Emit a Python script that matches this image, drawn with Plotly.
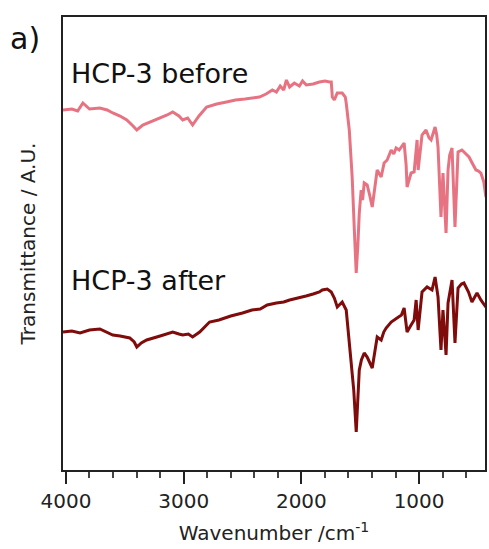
import plotly.graph_objects as go

# HCP-3 before (wavenumber cm^-1, transmittance a.u.)
before_wn = [4025, 3950, 3900, 3856, 3800, 3712, 3650, 3602, 3540, 3483, 3430, 3398, 3347, 3280, 3200, 3140,
             3093, 3040, 3008, 2966, 2924, 2870, 2805, 2720, 2636, 2560, 2480, 2420, 2356, 2300, 2246, 2212,
             2180, 2150, 2127, 2100, 2060, 2017, 1990, 1958, 1900, 1847, 1800, 1760, 1746, 1737, 1720, 1695,
             1653, 1627, 1619, 1593, 1576, 1568, 1550, 1534, 1520, 1508, 1492, 1480, 1466, 1441, 1420, 1398,
             1356, 1322, 1297, 1271, 1237, 1215, 1195, 1169, 1127, 1110, 1102, 1068, 1042, 1025, 1017, 1008,
             975, 941, 915, 898, 864, 850, 839, 814, 797, 771, 754, 740, 720, 695, 669, 636, 600, 576, 540,
             517, 495, 475, 450, 432]
before_t = [360, 361, 359, 367, 361, 362, 360, 357, 354, 350, 344, 340, 345, 348, 352, 355,
            358, 354, 350, 352, 345, 354, 363, 366, 368, 370, 371, 372, 373, 376, 380, 378,
            384, 380, 390, 383, 387, 384, 389, 385, 386, 388, 389, 388, 388, 373, 370, 377,
            377, 373, 367, 340, 313, 292, 240, 197, 225, 257, 280, 270, 287, 285, 275, 263,
            300, 293, 307, 310, 320, 316, 322, 320, 327, 305, 283, 297, 298, 325, 330, 300,
            335, 340, 332, 330, 343, 335, 323, 253, 297, 237, 300, 315, 322, 243, 318, 320, 316, 313, 305,
            300, 299, 297, 288, 273]

# HCP-3 after
after_wn = [4025, 3950, 3880, 3800, 3712, 3650, 3602, 3540, 3458, 3420, 3398, 3360, 3314, 3200, 3093, 3040,
            3008, 2960, 2924, 2864, 2780, 2700, 2600, 2500, 2420, 2350, 2290, 2212, 2150, 2100, 2017, 1960,
            1900, 1847, 1822, 1780, 1746, 1720, 1695, 1653, 1619, 1593, 1576, 1555, 1534, 1520, 1508, 1490,
            1466, 1441, 1398, 1356, 1322, 1300, 1280, 1237, 1186, 1150, 1127, 1102, 1068, 1042, 1025, 1008,
            975, 932, 890, 864, 839, 814, 797, 771, 754, 720, 695, 669, 640, 619, 580, 551, 508, 475, 432]
after_t = [138, 139, 137, 140, 141, 138, 135, 134, 132, 128, 123, 127, 130, 134, 138, 136,
           135, 136, 133, 138, 148, 150, 154, 157, 160, 161, 165, 167, 168, 170, 172, 174,
           176, 178, 180, 181, 178, 172, 163, 168, 160, 127, 110, 80, 38, 70, 100, 110,
           117, 113, 102, 133, 130, 138, 142, 148, 152, 155, 162, 138, 145, 150, 170, 140,
           178, 183, 180, 193, 173, 120, 160, 115, 167, 190, 127, 182, 186, 187, 178, 168, 177, 170, 163]

fig = go.Figure()
fig.add_trace(go.Scatter(x=before_wn, y=before_t, mode="lines",
                         line=dict(color="#e77382", width=3), showlegend=False))
fig.add_trace(go.Scatter(x=after_wn, y=after_t, mode="lines",
                         line=dict(color="#7f0b0b", width=3), showlegend=False))

font = "DejaVu Sans"
fig.update_layout(
    width=489, height=549,
    margin=dict(l=63, r=2, t=17, b=79),
    paper_bgcolor="white", plot_bgcolor="white",
    font=dict(family=font, size=20, color="#222"),
    xaxis=dict(range=[4025, 440], showline=True, linecolor="#222", linewidth=2, mirror=True,
               showgrid=False, zeroline=False, tickmode="array", tickvals=[4000, 3000, 2000, 1000],
               ticktext=["4000", "3000", "2000", "1000"],
               ticks="outside", ticklen=12, tickwidth=2, tickcolor="#222",
               minor=dict(dtick=200, tick0=0, ticks="outside", ticklen=6, tickwidth=1.5, tickcolor="#444"),
               tickfont=dict(family=font, size=20, color="#222"),
               title=dict(text="Wavenumber /cm<sup>-1</sup>", standoff=14,
                          font=dict(family=font, size=20, color="#222"))),
    yaxis=dict(range=[0, 453], showline=True, linecolor="#222", linewidth=2, mirror=True,
               showgrid=False, zeroline=False, showticklabels=False, ticks="",
               title=dict(text="Transmittance / A.U.", standoff=20,
                          font=dict(family=font, size=20, color="#222"))),
    annotations=[
        dict(text="HCP-3 before", x=0.015, y=397, xref="paper", yref="y", xanchor="left", yanchor="middle",
             showarrow=False, font=dict(family=font, size=27, color="#111")),
        dict(text="HCP-3 after", x=0.015, y=190, xref="paper", yref="y", xanchor="left", yanchor="middle",
             showarrow=False, font=dict(family=font, size=27, color="#111")),
        dict(text="a)", x=-0.13, y=0.995, xref="paper", yref="paper", xanchor="left", yanchor="top",
             showarrow=False, font=dict(family=font, size=30, color="#111")),
    ],
)
fig.write_html("out.html")
